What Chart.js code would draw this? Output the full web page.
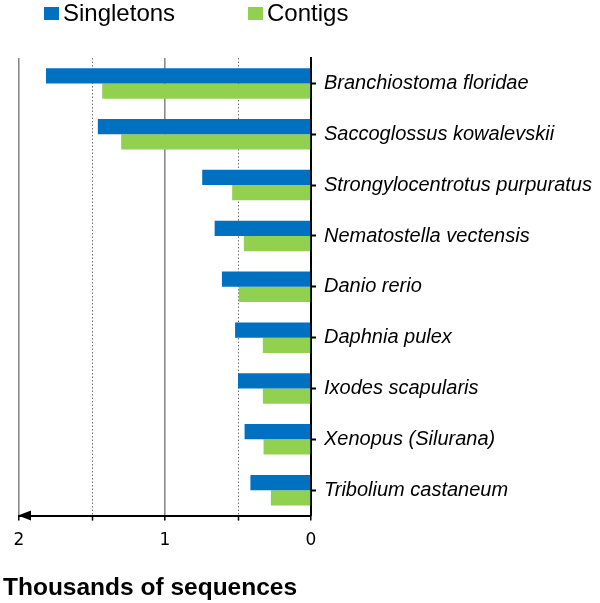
<!DOCTYPE html>
<html>
<head>
<meta charset="utf-8">
<script src="https://cdn.jsdelivr.net/npm/chart.js@4"></script>
<style>
  html, body { margin: 0; padding: 0; background: #fff; }
  #wrap { width: 600px; height: 603px; }
</style>
</head>
<body>
<div id="wrap"><canvas id="seqChart"></canvas></div>
<script>
// values in thousands of sequences
const species = [
  'Branchiostoma floridae',
  'Saccoglossus kowalevskii',
  'Strongylocentrotus purpuratus',
  'Nematostella vectensis',
  'Danio rerio',
  'Daphnia pulex',
  'Ixodes scapularis',
  'Xenopus (Silurana)',
  'Tribolium castaneum'
];
const singletons = [1.815, 1.46, 0.745, 0.66, 0.61, 0.52, 0.50, 0.455, 0.415];
const contigs = [1.43, 1.30, 0.54, 0.46, 0.495, 0.33, 0.33, 0.325, 0.275];
const xTicks = [0, 1, 2];

// legend drawn by hand in the top strip, like the original
const topLegend = {
  id: 'topLegend',
  afterDraw(chart) {
    const ctx = chart.ctx;
    const spots = [44, 248];
    ctx.save();
    ctx.font = '24px "Liberation Sans", Arial, sans-serif';
    ctx.textBaseline = 'alphabetic';
    chart.data.datasets.forEach((ds, i) => {
      ctx.fillStyle = ds.backgroundColor;
      ctx.fillRect(spots[i], 7, 15, 13);
      ctx.fillStyle = '#000';
      ctx.fillText(ds.label, spots[i] + 19, 21);
    });
    ctx.restore();
  }
};

// arrow head on the left end of the value axis
const axisArrow = {
  id: 'axisArrow',
  afterDraw(chart) {
    const x = chart.scales.x;
    const px = x.getPixelForValue(x.max);
    const py = x.top;
    const ctx = chart.ctx;
    ctx.save();
    ctx.fillStyle = '#000';
    ctx.beginPath();
    ctx.moveTo(px - 1, py);
    ctx.lineTo(px + 12, py - 5);
    ctx.lineTo(px + 12, py + 5);
    ctx.closePath();
    ctx.fill();
    ctx.restore();
  }
};

const isDotted = v => Math.abs(v - Math.round(v)) > 0.01;

new Chart(document.getElementById('seqChart'), {
  type: 'bar',
  data: {
    labels: species,
    datasets: [
      { label: 'Singletons', data: singletons, backgroundColor: '#0070C0' },
      { label: 'Contigs', data: contigs, backgroundColor: '#92D050' }
    ]
  },
  options: {
    indexAxis: 'y',
    responsive: true,
    maintainAspectRatio: false,
    animation: false,
    barPercentage: 1,
    categoryPercentage: 0.6,
    layout: { padding: { top: 58, left: 3, right: 0, bottom: 0 } },
    plugins: {
      legend: { display: false },
      tooltip: { enabled: false },
      title: {
        display: true,
        text: 'Thousands of sequences',
        position: 'bottom',
        align: 'start',
        color: '#000',
        font: { family: '"Liberation Sans", Arial, sans-serif', size: 24.5, weight: 'bold' },
        padding: { top: 22, bottom: 0 }
      }
    },
    scales: {
      x: {
        reverse: true,
        min: 0,
        max: 2,
        afterFit(s) { s.height = 36; s.paddingLeft = 19; },
        ticks: {
          stepSize: 0.5,
          autoSkip: false,
          maxRotation: 0,
          padding: 10,
          color: '#000',
          font: { family: '"DejaVu Sans", sans-serif', size: 17 },
          callback: v => (xTicks.includes(v) ? String(v) : '')
        },
        grid: {
          color: c => (c.tick && c.tick.value === 0 ? 'rgba(0,0,0,0)' : (isDotted(c.tick ? c.tick.value : 0) ? '#707070' : '#8a8a8a')),
          lineWidth: c => (c.tick && isDotted(c.tick.value) ? 1 : 1.6),
          tickColor: '#000',
          tickLength: 5,
          tickWidth: 1.5
        },
        border: {
          color: '#000',
          width: 2,
          dash: c => (c.tick && isDotted(c.tick.value) ? [1.5, 2] : [])
        }
      },
      y: {
        position: 'right',
        afterFit(s) { s.width = 289; },
        ticks: {
          padding: 8,
          color: '#000',
          font: { family: '"Liberation Sans", Arial, sans-serif', size: 20, style: 'italic' }
        },
        grid: {
          offset: false,
          drawOnChartArea: false,
          tickColor: '#000',
          tickLength: 5,
          tickWidth: 2
        },
        border: { color: '#000', width: 2 }
      }
    }
  },
  plugins: [topLegend, axisArrow]
});
</script>
</body>
</html>
